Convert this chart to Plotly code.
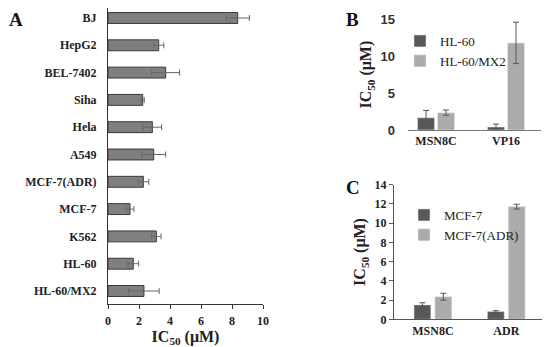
import plotly.graph_objects as go

# Panel A: IC50 of MSN8C per cell line (top to bottom)
cell_lines = ["BJ", "HepG2", "BEL-7402", "Siha", "Hela", "A549",
              "MCF-7(ADR)", "MCF-7", "K562", "HL-60", "HL-60/MX2"]
ic50_a = [8.37, 3.27, 3.72, 2.24, 2.86, 2.95, 2.28, 1.42, 3.12, 1.63, 2.32]
err_a = [0.75, 0.33, 0.9, 0.1, 0.6, 0.77, 0.35, 0.25, 0.3, 0.35, 0.98]

# Panel B: HL-60 vs HL-60/MX2
drugs_b = ["MSN8C", "VP16"]
hl60 = [1.65, 0.4]
hl60_err = [1.0, 0.4]
hl60mx2 = [2.35, 11.8]
hl60mx2_err = [0.35, 2.8]

# Panel C: MCF-7 vs MCF-7(ADR)
drugs_c = ["MSN8C", "ADR"]
mcf7 = [1.5, 0.8]
mcf7_err = [0.22, 0.1]
mcf7adr = [2.35, 11.72]
mcf7adr_err = [0.35, 0.25]

# the page body keeps its default 8px margin, so the figure is drawn
# 8px in from the top-left corner of the window
PAD = 8
W, H = 550 - PAD, 347 - PAD
SERIF = "Liberation Serif"
SANS = "Liberation Sans"
DARK = "#595959"
LIGHT = "#ababab"


def px_x(a, b):
    return [(a - PAD) / W, (b - PAD) / W]


def px_y(top, bottom):
    return [1 - (bottom - PAD) / H, 1 - (top - PAD) / H]


fig = go.Figure()

# --- A ---
fig.add_trace(go.Bar(
    y=cell_lines, x=ic50_a, orientation="h", width=0.4,
    marker=dict(color="#7f7f7f", line=dict(color="#3a3a3a", width=1)),
    error_x=dict(type="data", array=err_a, color="#666666", thickness=1, width=3),
    showlegend=False, xaxis="x", yaxis="y"))

# --- B ---
fig.add_trace(go.Bar(
    x=drugs_b, y=hl60, name="HL-60", width=0.243, offset=-0.264,
    marker=dict(color=DARK),
    error_y=dict(type="data", array=hl60_err, color="#555555", thickness=1, width=3),
    xaxis="x2", yaxis="y2", legend="legend"))
fig.add_trace(go.Bar(
    x=drugs_b, y=hl60mx2, name="HL-60/MX2", width=0.243, offset=0.021,
    marker=dict(color=LIGHT),
    error_y=dict(type="data", array=hl60mx2_err, color="#555555", thickness=1, width=3),
    xaxis="x2", yaxis="y2", legend="legend"))

# --- C ---
fig.add_trace(go.Bar(
    x=drugs_c, y=mcf7, name="MCF-7", width=0.23, offset=-0.258,
    marker=dict(color=DARK),
    error_y=dict(type="data", array=mcf7_err, color="#555555", thickness=1, width=3),
    xaxis="x3", yaxis="y3", legend="legend2"))
fig.add_trace(go.Bar(
    x=drugs_c, y=mcf7adr, name="MCF-7(ADR)", width=0.23, offset=0.027,
    marker=dict(color=LIGHT),
    error_y=dict(type="data", array=mcf7adr_err, color="#555555", thickness=1, width=3),
    xaxis="x3", yaxis="y3", legend="legend2"))

ic50_title = "IC<sub>50</sub> (μM)"
bold_serif = dict(family=SERIF, size=12, color="#222222", weight="bold")
title_font = dict(family=SERIF, size=16, color="#222222")

fig.update_layout(
    width=W, height=H, margin=dict(l=0, r=0, t=0, b=0),
    paper_bgcolor="white", plot_bgcolor="white",
    barmode="overlay",
    xaxis=dict(domain=px_x(108, 263), range=[0, 10], dtick=2,
               showgrid=False, zeroline=False, showline=True,
               linecolor="#333333", linewidth=1, ticks="outside",
               ticklen=4, tickcolor="#333333", tickfont=bold_serif,
               ticklabelstandoff=2,
               title=dict(text="<b>" + ic50_title + "</b>", standoff=4,
                          font=title_font),
               automargin=False, anchor="y"),
    yaxis=dict(domain=px_y(8, 304), categoryorder="array",
               categoryarray=cell_lines[::-1], range=[-0.476, 10.366],
               showgrid=False, zeroline=False, showline=True,
               linecolor="#333333", linewidth=1, ticks="",
               ticklabelstandoff=8, tickfont=bold_serif,
               automargin=False, anchor="x"),
    xaxis2=dict(domain=px_x(408, 541), range=[-0.4, 1.5],
                showgrid=False, zeroline=False, showline=True,
                linecolor="#777777", linewidth=1, ticks="",
                tickfont=bold_serif, automargin=False, anchor="y2"),
    yaxis2=dict(domain=px_y(19.3, 130), range=[0, 15], dtick=5,
                showgrid=False, zeroline=False, showline=False,
                tickfont=dict(family=SANS, size=13, color="#333333", weight="bold"),
                ticklabelstandoff=12,
                title=dict(text="<b>" + ic50_title + "</b>", standoff=4,
                           font=title_font),
                automargin=False, anchor="x2"),
    xaxis3=dict(domain=px_x(394, 543), range=[-0.53, 1.5],
                showgrid=False, zeroline=False, showline=True,
                linecolor="#555555", linewidth=1, ticks="",
                tickfont=bold_serif, automargin=False, anchor="y3"),
    yaxis3=dict(domain=px_y(184.7, 319.3), range=[0, 14], dtick=2,
                showgrid=False, zeroline=False, showline=True,
                linecolor="#555555", linewidth=1, ticks="outside",
                ticklen=4, tickcolor="#555555",
                tickfont=dict(family=SERIF, size=12, color="#222222", weight="bold"),
                title=dict(text="<b>" + ic50_title + "</b>", standoff=4,
                           font=title_font),
                automargin=False, anchor="x3"),
    legend=dict(x=(400 - PAD) / W, y=1 - (26 - PAD) / H,
                xanchor="left", yanchor="top", bgcolor="rgba(0,0,0,0)",
                font=dict(family=SERIF, size=13, color="#222222"),
                itemwidth=30, tracegroupgap=0),
    legend2=dict(x=(404 - PAD) / W, y=1 - (200 - PAD) / H,
                 xanchor="left", yanchor="top", bgcolor="rgba(0,0,0,0)",
                 font=dict(family=SERIF, size=13, color="#222222"),
                 itemwidth=30, tracegroupgap=0),
)

# panel letters, top-anchored so they stay inside the figure
for letter, x, y in [("A", 8, 8), ("B", 345, 8), ("C", 345, 176)]:
    fig.add_annotation(text="<b>" + letter + "</b>",
                       x=(x - PAD) / W, y=1 - (y - PAD) / H,
                       xref="paper", yref="paper", xanchor="left",
                       yanchor="top", showarrow=False, borderpad=0,
                       font=dict(family=SERIF, size=19, color="#111111"))

fig.write_html("out.html")
